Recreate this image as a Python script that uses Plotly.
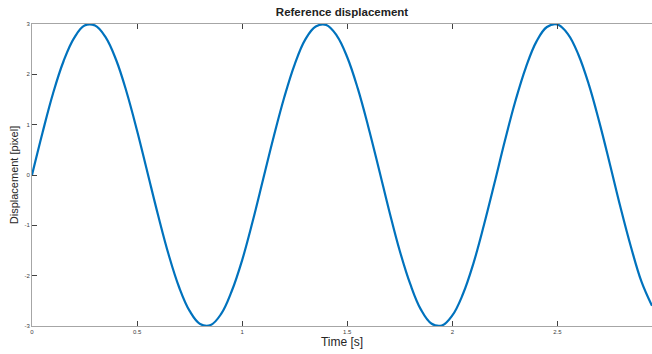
import plotly.graph_objects as go

# Time samples [s] and displacement values [pixel]
time_s = [round(0.05 * k, 2) for k in range(60)]
displacement = [
    0.00, 0.84, 1.62, 2.26, 2.72, 2.97, 2.97, 2.74, 2.29, 1.65,
    0.88, 0.04, -0.80, -1.58, -2.23, -2.70, -2.96, -2.98, -2.76, -2.31,
    -1.69, -0.92, -0.08, 0.76, 1.54, 2.20, 2.69, 2.95, 2.98, 2.77,
    2.34, 1.72, 0.96, 0.13, -0.72, -1.51, -2.17, -2.67, -2.95, -2.99,
    -2.79, -2.37, -1.76, -1.00, -0.17, 0.68, 1.47, 2.14, 2.65, 2.94,
    2.99, 2.80, 2.39, 1.79, 1.04, 0.21, -0.64, -1.43, -2.12, -2.60,
]
x_ticks = [0, 0.5, 1, 1.5, 2, 2.5]
x_tick_labels = ["0", "0.5", "1", "1.5", "2", "2.5"]
y_ticks = [-3, -2, -1, 0, 1, 2, 3]
y_tick_labels = ["-3", "-2", "-1", "0", "1", "2", "3"]

FONT = "Liberation Sans, Arial, sans-serif"

fig = go.Figure()
fig.add_trace(go.Scatter(
    x=time_s, y=displacement, mode="lines",
    line=dict(color="#0072BD", width=2.2, shape="spline", smoothing=1.1),
    showlegend=False, hoverinfo="skip",
))

axis_common = dict(
    showgrid=False, zeroline=False, showline=True, linecolor="#a6a6a6",
    linewidth=1, ticks="inside", ticklen=5, tickwidth=1,
    tickcolor="#404040", tickfont=dict(family=FONT, size=6, color="#404040"),
)

fig.update_layout(
    width=652, height=354,
    margin=dict(l=32, r=0, t=24, b=28),
    paper_bgcolor="white", plot_bgcolor="white",
    font=dict(family=FONT),
    title=dict(text="<b>Reference displacement</b>", x=0.5, xanchor="center",
               y=0.965, yanchor="middle",
               xref="paper", font=dict(family=FONT, size=11.5, color="#222222")),
    xaxis=dict(range=[0, 2.95], tickvals=x_ticks, ticktext=x_tick_labels,
               mirror="ticks",
               title=dict(text="Time [s]", standoff=2,
                          font=dict(family=FONT, size=12, color="#262626")),
               **axis_common),
    yaxis=dict(range=[-3, 3], tickvals=y_ticks, ticktext=y_tick_labels,
               mirror=False,
               title=dict(text="Displacement [pixel]", standoff=3,
                          font=dict(family=FONT, size=11, color="#262626")),
               **axis_common),
)

fig.write_html("out.html")
